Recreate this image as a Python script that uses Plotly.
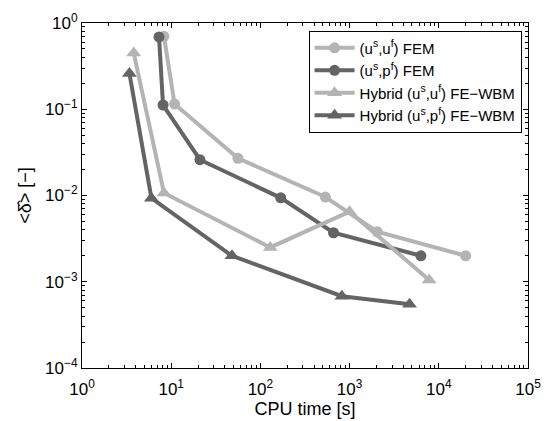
import plotly.graph_objects as go

names = ["(u<sup>s</sup>,u<sup>f</sup>) FEM", "(u<sup>s</sup>,p<sup>f</sup>) FEM",
         "Hybrid (u<sup>s</sup>,u<sup>f</sup>) FE−WBM", "Hybrid (u<sup>s</sup>,p<sup>f</sup>) FE−WBM"]

x_uu_fem = [8.3, 10.9, 56, 535, 2040, 20000]
y_uu_fem = [0.70, 0.115, 0.027, 0.0096, 0.0038, 0.0020]

x_up_fem = [7.3, 8.1, 21, 169, 660, 6300]
y_up_fem = [0.69, 0.112, 0.026, 0.0094, 0.0037, 0.0020]

x_uu_hyb = [3.8, 8.3, 129, 1000, 7800]
y_uu_hyb = [0.45, 0.0107, 0.0025, 0.0065, 0.00105]

x_up_hyb = [3.4, 6.0, 48, 820, 4700]
y_up_hyb = [0.26, 0.0093, 0.0020, 0.00068, 0.00055]

xticks = [1, 10, 100, 1000, 10000, 100000]
xticktext = ["10<sup>0</sup>", "10<sup>1</sup>", "10<sup>2</sup>", "10<sup>3</sup>", "10<sup>4</sup>", "10<sup>5</sup>"]
yticks = [1e-4, 1e-3, 1e-2, 1e-1, 1]
yticktext = ["10<sup>−4</sup>", "10<sup>−3</sup>", "10<sup>−2</sup>", "10<sup>−1</sup>", "10<sup>0</sup>"]

x_minor = [m * 10 ** d for d in range(0, 5) for m in range(2, 10)]
y_minor = [m * 10.0 ** d for d in range(-4, 0) for m in range(2, 10)]

light = "#b4b4b4"
dark = "#646464"

fig = go.Figure()
series = [
    (x_uu_fem, y_uu_fem, light, "circle", names[0]),
    (x_up_fem, y_up_fem, dark, "circle", names[1]),
    (x_uu_hyb, y_uu_hyb, light, "triangle-up", names[2]),
    (x_up_hyb, y_up_hyb, dark, "triangle-up", names[3]),
]
for i, (xs, ys, c, sym, nm) in enumerate(series):
    fig.add_trace(go.Scatter(
        x=xs, y=ys, mode="lines+markers", name=nm,
        line=dict(color=c, width=4),
        marker=dict(symbol=sym, size=11 if sym == "circle" else 13, color=c,
                    line=dict(width=0)),
    ))

def axis_common(minor_vals):
    return dict(
        type="log", showgrid=False, zeroline=False, showline=True, mirror="allticks",
        linecolor="black", linewidth=1, ticks="inside", ticklen=5, tickcolor="black",
        minor=dict(tickmode="array", tickvals=minor_vals, ticks="inside", ticklen=3,
                   tickcolor="black", showgrid=False),
        tickfont=dict(family="Liberation Sans, Arial", size=17, color="black"),
        automargin=False,
    )

fig.update_layout(
    width=544, height=421,
    margin=dict(l=82, r=16, t=23, b=53),
    paper_bgcolor="white", plot_bgcolor="white",
    font=dict(family="Liberation Sans, Arial", color="black"),
    xaxis=dict(axis_common(x_minor), range=[0, 5], tickvals=xticks, ticktext=xticktext,
               ticklabelstandoff=6,
               title=dict(text="CPU time [s]", font=dict(size=18), standoff=0)),
    yaxis=dict(axis_common(y_minor), range=[-4, 0], tickvals=yticks, ticktext=yticktext,
               title=dict(text="&lt;δ̂&gt; [−]", font=dict(size=18), standoff=8)),
    legend=dict(x=0.508, y=0.978, xanchor="left", yanchor="top",
                bgcolor="white", bordercolor="black", borderwidth=1,
                font=dict(size=15), itemwidth=40),
    showlegend=True,
)

fig.write_html("out.html", config={"displayModeBar": False},
               post_script="document.body.style.margin='0';")
